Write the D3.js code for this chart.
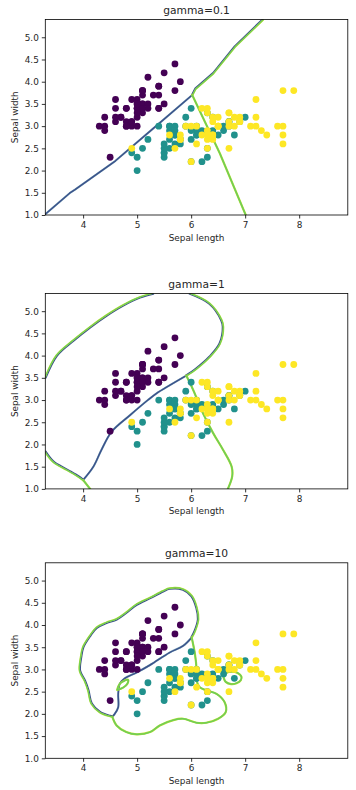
<!DOCTYPE html>
<html><head><meta charset="utf-8">
<script src="https://cdn.jsdelivr.net/npm/d3@7"></script>
<style>body{margin:0;background:#fff}svg{display:block}text{font-family:"DejaVu Sans",sans-serif;fill:#262626}</style>
</head><body><svg id="c" width="356" height="790"></svg>
<script>
// ---- data ----
const classColors = ["#440154", "#21918c", "#fde725"];
const titles = ["gamma=0.1", "gamma=1", "gamma=10"];
const xTicks = [4, 5, 6, 7, 8];
const yTicks = [1.0, 1.5, 2.0, 2.5, 3.0, 3.5, 4.0, 4.5, 5.0];
const xDomain = [3.3, 8.9];
const yDomain = [1.0, 5.4];
// iris sepal length / width, labels 0,1,2
const sepalLength = [5.1,4.9,4.7,4.6,5.0,5.4,4.6,5.0,4.4,4.9,5.4,4.8,4.8,4.3,5.8,5.7,5.4,5.1,5.7,5.1,5.4,5.1,4.6,5.1,4.8,5.0,5.0,5.2,5.2,4.7,4.8,5.4,5.2,5.5,4.9,5.0,5.5,4.9,4.4,5.1,5.0,4.5,4.4,5.0,5.1,4.8,5.1,4.6,5.3,5.0,
7.0,6.4,6.9,5.5,6.5,5.7,6.3,4.9,6.6,5.2,5.0,5.9,6.0,6.1,5.6,6.7,5.6,5.8,6.2,5.6,5.9,6.1,6.3,6.1,6.4,6.6,6.8,6.7,6.0,5.7,5.5,5.5,5.8,6.0,5.4,6.0,6.7,6.3,5.6,5.5,5.5,6.1,5.8,5.0,5.6,5.7,5.7,6.2,5.1,5.7,
6.3,5.8,7.1,6.3,6.5,7.6,4.9,7.3,6.7,7.2,6.5,6.4,6.8,5.7,5.8,6.4,6.5,7.7,7.7,6.0,6.9,5.6,7.7,6.3,6.7,7.2,6.2,6.1,6.4,7.2,7.4,7.9,6.4,6.3,6.1,7.7,6.3,6.4,6.0,6.9,6.7,6.9,5.8,6.8,6.7,6.7,6.3,6.5,6.2,5.9];
const sepalWidth = [3.5,3.0,3.2,3.1,3.6,3.9,3.4,3.4,2.9,3.1,3.7,3.4,3.0,3.0,4.0,4.4,3.9,3.5,3.8,3.8,3.4,3.7,3.6,3.3,3.4,3.0,3.4,3.5,3.4,3.2,3.1,3.4,4.1,4.2,3.1,3.2,3.5,3.6,3.0,3.4,3.5,2.3,3.2,3.5,3.8,3.0,3.8,3.2,3.7,3.3,
3.2,3.2,3.1,2.3,2.8,2.8,3.3,2.4,2.9,2.7,2.0,3.0,2.2,2.9,2.9,3.1,3.0,2.7,2.2,2.5,3.2,2.8,2.5,2.8,2.9,3.0,2.8,3.0,2.9,2.6,2.4,2.4,2.7,2.7,3.0,3.4,3.1,2.3,3.0,2.5,2.6,3.0,2.6,2.3,2.7,3.0,2.9,2.9,2.5,2.8,
3.3,2.7,3.0,2.9,3.0,3.0,2.5,2.9,2.5,3.6,3.2,2.7,3.0,2.5,2.8,3.2,3.0,3.8,2.6,2.2,3.2,2.8,2.8,2.7,3.3,3.2,2.8,3.0,2.8,3.0,2.8,3.8,2.8,2.8,2.6,3.0,3.4,3.1,3.0,3.1,3.1,3.1,2.7,3.2,3.3,3.0,2.5,3.0,3.4,3.0];
const species = [].concat(Array(50).fill(0), Array(50).fill(1), Array(50).fill(2));

// decision boundaries: [sepal length, sepal width]
// kind: "01" class0|class1, "12" class1|class2, "02" class0|class2 (side: which side class 0 lies)
const g01_boundary01 = [[3.3,1.02],[3.75,1.49],[3.85,1.57],[4.6,2.22],[5.3,2.95],[6.02,3.7]];
const g01_boundary02 = [[6.02,3.7],[6.08,3.84],[6.41,4.19],[6.81,4.79],[7.33,5.4]];
const g01_boundary12 = [[6.02,3.7],[6.53,2.39],[7.01,1.0]];

const g1_boundary02 = [[5.30,5.4],[5.05,5.31],[4.74,5.13],[4.43,4.90],[4.13,4.64],[3.82,4.34],[3.51,4.0],[3.3,3.50]];
const g1_boundary02b = [[5.97,5.4],[6.34,5.17],[6.56,4.80],[6.59,4.65],[6.53,4.27],[6.34,3.97],[6.10,3.71],[5.91,3.55]];
const g1_boundary01 = [[5.91,3.55],[5.60,3.33],[5.36,3.15],[5.2,3.0],[4.87,2.66],[4.53,2.29],[4.34,1.88],[4.19,1.5],[4.0,1.2]];
const g1_boundary02c = [[3.3,1.84],[3.45,1.61],[3.70,1.43],[3.91,1.28],[4.0,1.2]];
const g1_boundary12 = [[5.91,3.55],[6.04,3.22],[6.22,2.70],[6.41,2.25],[6.59,1.88],[6.75,1.50],[6.76,1.28],[6.68,1.0]];
const g1_boundary12b = [[4.0,1.2],[4.13,1.0]];

const g10_boundary02 = [[6.01,3.72],[6.07,3.87],[6.13,4.13],[6.10,4.39],[6.01,4.65],[5.85,4.80],[5.60,4.82],[5.48,4.76],[5.24,4.61],[4.99,4.46],[4.80,4.28],[4.62,4.13],[4.43,4.05],[4.25,3.94],[4.13,3.76],[4.00,3.50],[3.96,3.27],[3.94,2.97],[4.03,2.75],[4.095,2.53],[4.157,2.23],[4.31,2.04],[4.50,1.95],[4.54,1.94]];
const g10_boundary01 = [[6.01,3.72],[5.85,3.53],[5.60,3.38],[5.24,3.10],[4.99,2.93],[4.77,2.80],[4.68,2.68],[4.65,2.45],[4.65,2.15],[4.58,1.99],[4.54,1.94]];
const g10_boundary12 = [[6.01,3.72],[6.07,3.35],[6.10,3.01],[6.10,2.75],[6.16,2.60],[6.28,2.53],[6.47,2.45],[6.62,2.26],[6.64,2.04],[6.50,1.89],[6.28,1.80],[6.10,1.80],[5.85,1.89],[5.67,1.86],[5.42,1.74],[5.24,1.59],[4.99,1.54],[4.80,1.59],[4.62,1.74],[4.54,1.94]];
const g10_island1 = [[4.63,2.54],[4.68,2.68],[4.77,2.75],[4.83,2.77],[4.82,2.68],[4.74,2.59],[4.63,2.54]];
const g10_island2 = [[6.60,2.82],[6.65,2.92],[6.75,2.95],[6.86,2.92],[6.93,2.84],[6.92,2.76],[6.84,2.69],[6.74,2.67],[6.64,2.72],[6.60,2.82]];

const panels = [
  {lines: [[g01_boundary01,"01"],[g01_boundary02,"02",1],[g01_boundary12,"12"]], curve: d3.curveLinear},
  {lines: [[g1_boundary01,"01"],[g1_boundary02,"02",1],[g1_boundary02b,"02",-1],[g1_boundary02c,"02",1],[g1_boundary12,"12"],[g1_boundary12b,"12"]], curve: d3.curveCatmullRom},
  {lines: [[g10_boundary01,"01"],[g10_boundary02,"02",1],[g10_boundary12,"12"],[g10_island1,"12"],[g10_island2,"12"]], curve: d3.curveCatmullRom}
];

// shift a pixel polyline sideways (for the stacked contour levels)
function shift(pts, d) {
  return pts.map((p, i) => {
    const a = pts[Math.max(0, i - 1)], b = pts[Math.min(pts.length - 1, i + 1)];
    const tx = b[0] - a[0], ty = b[1] - a[1], len = Math.hypot(tx, ty) || 1;
    return [p[0] + d * ty / len, p[1] - d * tx / len];
  });
}

// ---- layout ----
const L = 45.3, R = 347.8, H = 195.5;
const tops = [19.5, 293.4, 562.8];
const svg = d3.select("#c");

panels.forEach((p, i) => {
  const top = tops[i], bottom = top + H;
  const x = d3.scaleLinear(xDomain, [L, R]);
  const y = d3.scaleLinear(yDomain, [bottom, top]);
  const g = svg.append("g");
  const cid = "clip" + i;
  g.append("clipPath").attr("id", cid).append("rect").attr("x", L).attr("y", top).attr("width", R - L).attr("height", H);

  const lg = g.append("g").attr("clip-path", `url(#${cid})`);
  const line = d3.line().curve(p.curve);
  const path = (pts, color, w, op) => lg.append("path").attr("d", line(pts)).attr("fill", "none")
      .attr("stroke", color).attr("stroke-width", w).attr("stroke-opacity", op || 1)
      .attr("stroke-linejoin", "round").attr("stroke-linecap", "round");
  p.lines.forEach(([pts, kind, side]) => {
    const px = pts.map(d => [x(d[0]), y(d[1])]);
    if (kind === "01") {
      path(px, "#2c728e", 2.1, 0.55);
      path(px, "#3b528b", 1.5);
    } else if (kind === "12") {
      path(px, "#b5de2b", 2.2);
      path(px, "#6ccd5a", 1.4);
    } else {
      path(shift(px, 0.6 * side), "#3b528b", 1.4);
      path(shift(px, -0.45 * side), "#b5de2b", 1.6);
      path(shift(px, -0.3 * side), "#6ccd5a", 1.1);
    }
  });

  g.append("g").selectAll("circle").data(sepalLength).join("circle")
    .attr("cx", d => x(d))
    .attr("cy", (d, k) => y(sepalWidth[k]))
    .attr("r", 3.4)
    .attr("fill", (d, k) => classColors[species[k]]);

  const xa = g.append("g").attr("transform", `translate(0,${bottom})`)
    .call(d3.axisBottom(x).tickValues(xTicks).tickFormat(d3.format("d")).tickSize(3.5).tickPadding(3));
  const ya = g.append("g").attr("transform", `translate(${L},0)`)
    .call(d3.axisLeft(y).tickValues(yTicks).tickFormat(d3.format(".1f")).tickSize(3.5).tickPadding(3));
  [xa, ya].forEach(a => {
    a.select(".domain").remove();
    a.selectAll("line").attr("stroke", "#000").attr("stroke-width", 0.8);
    a.selectAll("text").attr("font-size", 8.9).attr("font-family", "DejaVu Sans").attr("fill", "#262626");
  });
  g.append("rect").attr("x", L).attr("y", top).attr("width", R - L).attr("height", H)
    .attr("fill", "none").attr("stroke", "#000").attr("stroke-width", 0.8);

  g.append("text").attr("x", (L + R) / 2).attr("y", top - 5.5).attr("text-anchor", "middle")
    .attr("font-size", 10.7).text(titles[i]);
  g.append("text").attr("x", (L + R) / 2).attr("y", bottom + 25.5).attr("text-anchor", "middle")
    .attr("font-size", 8.9).text("Sepal length");
  g.append("text").attr("transform", `translate(${18},${(top + bottom) / 2}) rotate(-90)`)
    .attr("text-anchor", "middle").attr("font-size", 8.9).text("Sepal width");
});
</script></body></html>
